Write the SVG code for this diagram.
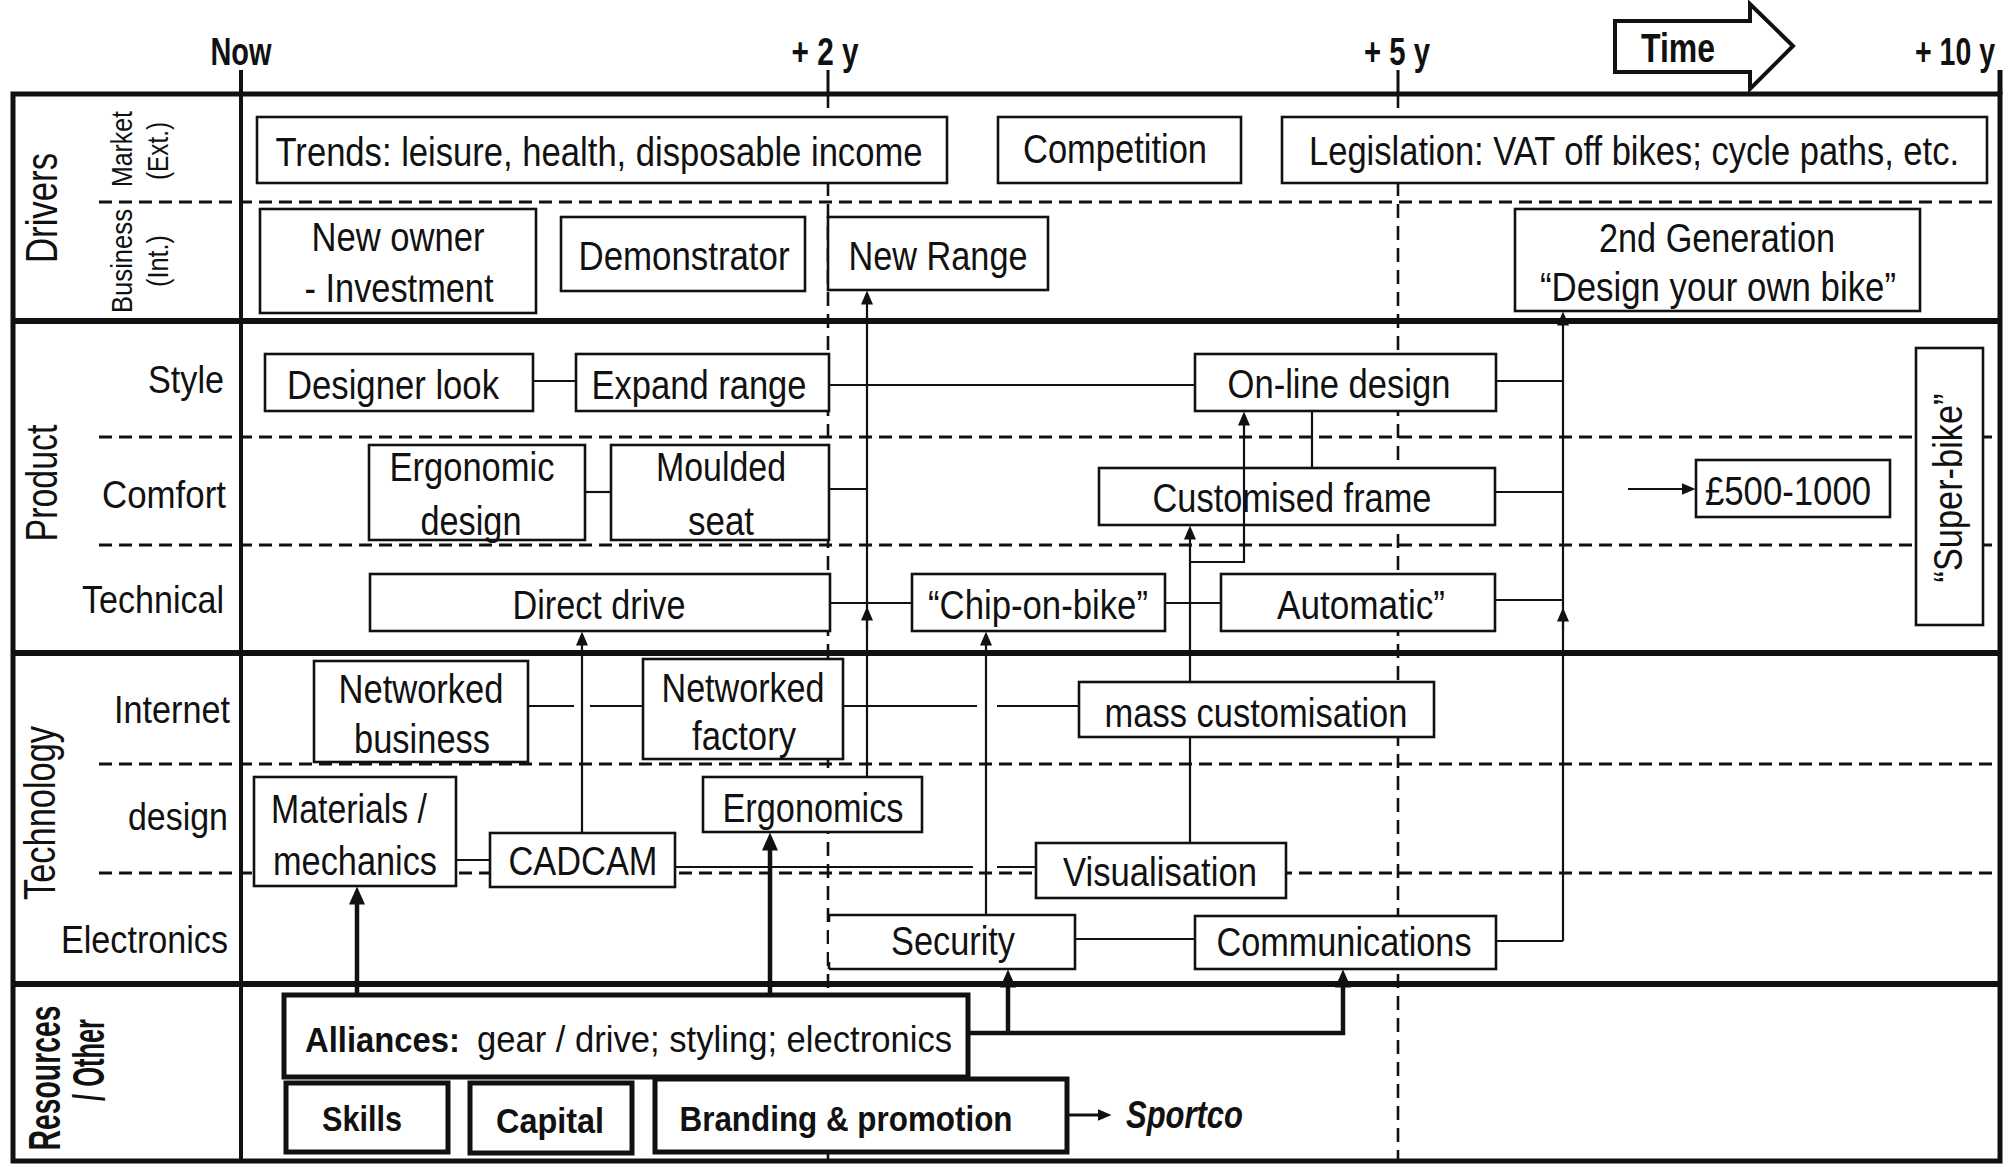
<svg xmlns="http://www.w3.org/2000/svg" width="2015" height="1167" viewBox="0 0 2015 1167">
  <defs>
    <style>
      .t { font-family: "Liberation Sans", Arial, sans-serif; font-size: 40px; fill: #111; text-anchor: middle; }
      .hd { font-weight: bold; font-size: 38px; }
      .rl { text-anchor: end; font-size: 39px; }
      .vl { font-size: 44px; }
      .sm { font-size: 29px; }
      .rs { font-size: 35px; font-weight: bold; }
      .st { text-anchor: start; }
      .box { fill: #fff; stroke: #111; stroke-width: 2.6; }
      .rbox { fill: #fff; stroke: #111; stroke-width: 5; }
      .ln { fill: none; stroke: #111; stroke-width: 2.2; }
      .thk { stroke-width: 4.5; }
      .dsh { fill: none; stroke: #111; stroke-width: 3; stroke-dasharray: 13 7; }
      .vdsh { fill: none; stroke: #111; stroke-width: 2.6; stroke-dasharray: 14 8; }
      .frm { fill: none; stroke: #111; stroke-width: 5; }
    </style>
    <marker id="a" markerUnits="userSpaceOnUse" markerWidth="14" markerHeight="12" viewBox="0 0 14 12" refX="0.5" refY="6" orient="auto">
      <path d="M0,0 L14,6 L0,12 z" fill="#111"/>
    </marker>
    <marker id="A" markerUnits="userSpaceOnUse" markerWidth="18" markerHeight="16" viewBox="0 0 18 16" refX="0.5" refY="8" orient="auto">
      <path d="M0,0 L18,8 L0,16 z" fill="#111"/>
    </marker>
  </defs>

  <rect width="2015" height="1167" fill="#fff"/>

  <!-- grid: dashed lane dividers and time lines -->
  <g id="grid">
    <path class="dsh" d="M99,202 H2000 M99,437 H2000 M99,545 H2000 M99,764 H2000 M99,873 H2000"/>
    <path class="vdsh" d="M828,94 V1161 M1398,94 V1161"/>
    <path class="ln" style="stroke-width:3" d="M828,70 V94 M1398,70 V94"/>
  </g>

  <!-- frame and section separators -->
  <g id="frame">
    <rect class="frm" x="13" y="94" width="1987" height="1067"/>
    <path class="frm" d="M2000,70 V94"/>
    <path class="frm" style="stroke-width:6" d="M13,321 H2000 M13,653 H2000 M13,984 H2000"/>
    <path class="ln" style="stroke-width:4" d="M241,70 V1161"/>
  </g>

  <!-- time header -->
  <g id="timeline">
    <text class="t hd" x="241" y="65" textLength="61" lengthAdjust="spacingAndGlyphs">Now</text>
    <text class="t hd" x="825" y="65" textLength="67" lengthAdjust="spacingAndGlyphs">+ 2 y</text>
    <text class="t hd" x="1397" y="65" textLength="66" lengthAdjust="spacingAndGlyphs">+ 5 y</text>
    <text class="t hd" x="1955" y="65" textLength="80" lengthAdjust="spacingAndGlyphs">+ 10 y</text>
    <polygon points="1615,21 1750,21 1750,4 1793,46 1750,89 1750,72 1615,72" fill="#fff" stroke="#111" stroke-width="4"/>
    <text class="t hd" x="1678" y="62" style="font-size:40px" textLength="74" lengthAdjust="spacingAndGlyphs">Time</text>
  </g>

  <!-- lane labels -->
  <g id="lane-labels">
    <text class="t vl" transform="translate(57,208) rotate(-90)" textLength="110" lengthAdjust="spacingAndGlyphs">Drivers</text>
    <text class="t sm" transform="translate(132,149) rotate(-90)" textLength="76" lengthAdjust="spacingAndGlyphs">Market</text>
    <text class="t sm" transform="translate(168,151) rotate(-90)" textLength="58" lengthAdjust="spacingAndGlyphs">(Ext.)</text>
    <text class="t sm" transform="translate(132,261) rotate(-90)" textLength="104" lengthAdjust="spacingAndGlyphs">Business</text>
    <text class="t sm" transform="translate(168,261) rotate(-90)" textLength="52" lengthAdjust="spacingAndGlyphs">(Int.)</text>
    <text class="t vl" transform="translate(57,483) rotate(-90)" textLength="117" lengthAdjust="spacingAndGlyphs">Product</text>
    <text class="t vl" transform="translate(55,813) rotate(-90)" textLength="174" lengthAdjust="spacingAndGlyphs">Technology</text>
    <text class="t vl" style="font-weight:bold" transform="translate(60,1078) rotate(-90)" textLength="145" lengthAdjust="spacingAndGlyphs">Resources</text>
    <text class="t vl" style="font-weight:bold" transform="translate(104,1060) rotate(-90)" textLength="82" lengthAdjust="spacingAndGlyphs">/ Other</text>
    <text class="t rl" x="224" y="393" textLength="76" lengthAdjust="spacingAndGlyphs">Style</text>
    <text class="t rl" x="226" y="508" textLength="124" lengthAdjust="spacingAndGlyphs">Comfort</text>
    <text class="t rl" x="224" y="613" textLength="142" lengthAdjust="spacingAndGlyphs">Technical</text>
    <text class="t rl" x="230" y="723" textLength="116" lengthAdjust="spacingAndGlyphs">Internet</text>
    <text class="t rl" x="228" y="830" textLength="100" lengthAdjust="spacingAndGlyphs">design</text>
    <text class="t rl" x="228" y="953" textLength="167" lengthAdjust="spacingAndGlyphs">Electronics</text>
  </g>

  <!-- drivers -->
  <g id="trends"><rect class="box" x="257" y="117" width="690" height="66"/>
    <text class="t" x="599" y="166" textLength="647" lengthAdjust="spacingAndGlyphs">Trends: leisure, health, disposable income</text></g>
  <g id="competition"><rect class="box" x="998" y="117" width="243" height="66"/>
    <text class="t" x="1115" y="163" textLength="184" lengthAdjust="spacingAndGlyphs">Competition</text></g>
  <g id="legislation"><rect class="box" x="1282" y="117" width="705" height="66"/>
    <text class="t" x="1634" y="165" textLength="650" lengthAdjust="spacingAndGlyphs">Legislation: VAT off bikes; cycle paths, etc.</text></g>
  <g id="new-owner"><rect class="box" x="260" y="209" width="276" height="104"/>
    <text class="t" x="398" y="251" textLength="173" lengthAdjust="spacingAndGlyphs">New owner</text>
    <text class="t" x="399" y="302" textLength="189" lengthAdjust="spacingAndGlyphs">- Investment</text></g>
  <g id="demonstrator"><rect class="box" x="561" y="217" width="244" height="74"/>
    <text class="t" x="684" y="270" textLength="211" lengthAdjust="spacingAndGlyphs">Demonstrator</text></g>
  <g id="new-range"><rect class="box" x="828" y="217" width="220" height="73"/>
    <text class="t" x="938" y="270" textLength="179" lengthAdjust="spacingAndGlyphs">New Range</text></g>
  <g id="second-generation"><rect class="box" x="1515" y="209" width="405" height="102"/>
    <text class="t" x="1717" y="252" textLength="236" lengthAdjust="spacingAndGlyphs">2nd Generation</text>
    <text class="t" x="1718" y="301" textLength="356" lengthAdjust="spacingAndGlyphs">“Design your own bike”</text></g>

  <!-- product -->
  <g id="designer-look"><rect class="box" x="265" y="354" width="268" height="57"/>
    <text class="t" x="393" y="399" textLength="212" lengthAdjust="spacingAndGlyphs">Designer look</text></g>
  <g id="expand-range"><rect class="box" x="576" y="354" width="253" height="57"/>
    <text class="t" x="699" y="399" textLength="215" lengthAdjust="spacingAndGlyphs">Expand range</text></g>
  <g id="online-design"><rect class="box" x="1195" y="354" width="301" height="57"/>
    <text class="t" x="1339" y="398" textLength="223" lengthAdjust="spacingAndGlyphs">On-line design</text></g>
  <g id="ergonomic-design"><rect class="box" x="369" y="445" width="216" height="95"/>
    <text class="t" x="472" y="481" textLength="165" lengthAdjust="spacingAndGlyphs">Ergonomic</text>
    <text class="t" x="471" y="535" textLength="101" lengthAdjust="spacingAndGlyphs">design</text></g>
  <g id="moulded-seat"><rect class="box" x="611" y="445" width="218" height="95"/>
    <text class="t" x="721" y="481" textLength="130" lengthAdjust="spacingAndGlyphs">Moulded</text>
    <text class="t" x="721" y="535" textLength="66" lengthAdjust="spacingAndGlyphs">seat</text></g>
  <g id="customised-frame"><rect class="box" x="1099" y="468" width="396" height="57"/>
    <text class="t" x="1292" y="512" textLength="279" lengthAdjust="spacingAndGlyphs">Customised frame</text></g>
  <g id="price"><rect class="box" x="1696" y="460" width="194" height="57"/>
    <text class="t" x="1788" y="505" textLength="166" lengthAdjust="spacingAndGlyphs">£500-1000</text></g>
  <g id="direct-drive"><rect class="box" x="370" y="574" width="460" height="57"/>
    <text class="t" x="599" y="619" textLength="173" lengthAdjust="spacingAndGlyphs">Direct drive</text></g>
  <g id="chip-on-bike"><rect class="box" x="912" y="574" width="253" height="57"/>
    <text class="t" x="1038" y="619" textLength="220" lengthAdjust="spacingAndGlyphs">“Chip-on-bike”</text></g>
  <g id="automatic"><rect class="box" x="1221" y="574" width="274" height="57"/>
    <text class="t" x="1361" y="619" textLength="168" lengthAdjust="spacingAndGlyphs">Automatic”</text></g>
  <g id="super-bike"><rect class="box" x="1916" y="348" width="67" height="277"/>
    <text class="t" transform="translate(1962,488) rotate(-90)" textLength="189" lengthAdjust="spacingAndGlyphs">“Super-bike”</text></g>

  <!-- technology -->
  <g id="networked-business"><rect class="box" x="314" y="661" width="214" height="101"/>
    <text class="t" x="421" y="703" textLength="165" lengthAdjust="spacingAndGlyphs">Networked</text>
    <text class="t" x="422" y="753" textLength="136" lengthAdjust="spacingAndGlyphs">business</text></g>
  <g id="networked-factory"><rect class="box" x="643" y="659" width="200" height="100"/>
    <text class="t" x="743" y="702" textLength="163" lengthAdjust="spacingAndGlyphs">Networked</text>
    <text class="t" x="744" y="750" textLength="104" lengthAdjust="spacingAndGlyphs">factory</text></g>
  <g id="mass-customisation"><rect class="box" x="1079" y="682" width="355" height="55"/>
    <text class="t" x="1256" y="727" textLength="303" lengthAdjust="spacingAndGlyphs">mass customisation</text></g>
  <g id="materials"><rect class="box" x="254" y="777" width="202" height="109"/>
    <text class="t" x="349" y="823" textLength="156" lengthAdjust="spacingAndGlyphs">Materials /</text>
    <text class="t" x="355" y="875" textLength="164" lengthAdjust="spacingAndGlyphs">mechanics</text></g>
  <g id="cadcam"><rect class="box" x="490" y="833" width="185" height="54"/>
    <text class="t" x="583" y="875" textLength="149" lengthAdjust="spacingAndGlyphs">CADCAM</text></g>
  <g id="ergonomics"><rect class="box" x="703" y="777" width="219" height="55"/>
    <text class="t" x="813" y="822" textLength="181" lengthAdjust="spacingAndGlyphs">Ergonomics</text></g>
  <g id="visualisation"><rect class="box" x="1036" y="843" width="250" height="55"/>
    <text class="t" x="1160" y="886" textLength="194" lengthAdjust="spacingAndGlyphs">Visualisation</text></g>
  <g id="security"><rect x="829" y="915" width="246" height="54" fill="#fff"/>
    <path class="box" style="fill:none" d="M829,915 H1075 V969 H829 M829,915 v7 M829,969 v-7"/>
    <text class="t" x="953" y="955" textLength="124" lengthAdjust="spacingAndGlyphs">Security</text></g>
  <g id="communications"><rect class="box" x="1195" y="916" width="301" height="53"/>
    <text class="t" x="1344" y="956" textLength="255" lengthAdjust="spacingAndGlyphs">Communications</text></g>

  <!-- resources -->
  <g id="alliances"><rect class="rbox" x="284" y="995" width="684" height="82"/>
    <text class="t rs st" x="305" y="1052" textLength="155" lengthAdjust="spacingAndGlyphs">Alliances:</text>
    <text class="t st" style="font-size:36px" x="477" y="1052" textLength="475" lengthAdjust="spacingAndGlyphs">gear / drive; styling; electronics</text></g>
  <g id="skills"><rect class="rbox" x="286" y="1083" width="162" height="69"/>
    <text class="t rs" x="362" y="1131" textLength="80" lengthAdjust="spacingAndGlyphs">Skills</text></g>
  <g id="capital"><rect class="rbox" x="470" y="1083" width="162" height="70"/>
    <text class="t rs" x="550" y="1133" textLength="108" lengthAdjust="spacingAndGlyphs">Capital</text></g>
  <g id="branding"><rect class="rbox" x="655" y="1079" width="412" height="73"/>
    <text class="t rs" x="846" y="1131" textLength="333" lengthAdjust="spacingAndGlyphs">Branding &amp; promotion</text></g>
  <g id="sportco">
    <text class="t rs st" style="font-style:italic;font-size:38px" x="1126" y="1128" textLength="117" lengthAdjust="spacingAndGlyphs">Sportco</text></g>

  <!-- connectors -->
  <g id="connectors">
    <path class="ln" d="M533,381 H576"/>
    <path class="ln" d="M829,385 H1195"/>
    <path class="ln" d="M1496,381 H1563"/>
    <path class="ln" d="M1312,411 V468"/>
    <path class="ln" d="M1496,492 H1563"/>
    <path class="ln" d="M1495,600 H1563"/>
    <path class="ln" d="M1496,941 H1563"/>
    <path class="ln" d="M1563,941 V325" marker-end="url(#a)"/>
    <path class="ln" d="M1563,630 V621" marker-end="url(#a)"/>
    <path class="ln" d="M585,492 H611"/>
    <path class="ln" d="M829,489 H867"/>
    <path class="ln" d="M867,777 V304" marker-end="url(#a)"/>
    <path class="ln" d="M867,630 V620" marker-end="url(#a)"/>
    <path class="ln" d="M830,603 H912"/>
    <path class="ln" d="M1165,603 H1221"/>
    <path class="ln" d="M986,915 V645" marker-end="url(#a)"/>
    <path class="ln" d="M1190,843 V737"/>
    <path class="ln" d="M1190,682 V539" marker-end="url(#a)"/>
    <path class="ln" d="M1190,562 H1244 V425" marker-end="url(#a)"/>
    <path class="ln" d="M1628,489 H1682" marker-end="url(#a)"/>
    <path class="ln" d="M582,833 V645" marker-end="url(#a)"/>
    <path class="ln" d="M528,706 H574 M590,706 H643"/>
    <path class="ln" d="M843,706 H977 M997,706 H1079"/>
    <path class="ln" d="M456,860 H490"/>
    <path class="ln" d="M675,867 H973 M997,867 H1036"/>
    <path class="ln" d="M1075,939 H1195"/>
    <path class="ln thk" d="M357,995 V904" marker-end="url(#A)"/>
    <path class="ln thk" d="M770,995 V850" marker-end="url(#A)"/>
    <path class="ln thk" d="M968,1033 H1343 V987" marker-end="url(#A)"/>
    <path class="ln thk" d="M1008,1033 V987" marker-end="url(#A)"/>
    <path class="ln" style="stroke-width:3" d="M1067,1115 H1098" marker-end="url(#a)"/>
  </g>
</svg>
